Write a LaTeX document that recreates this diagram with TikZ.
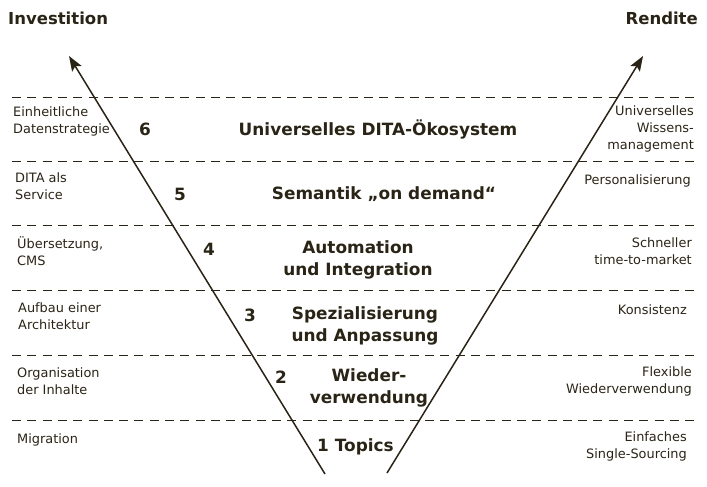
\documentclass[tikz,border=0pt]{standalone}
\usepackage{fontspec}
\setmainfont{DejaVu Sans}
\usetikzlibrary{arrows.meta}
\definecolor{ink}{RGB}{42,36,22}
\begin{document}
\begin{tikzpicture}[x=1pt,y=-1pt,
  every node/.style={text=ink,inner sep=0pt},
  small/.style={font=\fontsize{12.9}{17}\selectfont},
  leftlab/.style={small,anchor=west,align=left},
  rightlab/.style={small,anchor=east,align=right},
  title/.style={font=\fontsize{16.9}{22}\selectfont\bfseries,align=center},
  num/.style={font=\fontsize{16.9}{22}\selectfont\bfseries},
  head/.style={font=\fontsize{16.5}{20}\selectfont\bfseries},
  sep/.style={draw=ink,line width=1pt,dash pattern=on 9pt off 6.3pt},
  axis/.style={draw=ink,line width=1.5pt,-{Stealth[length=15pt,width=11pt,inset=3pt]}}]
\useasboundingbox (0,0) rectangle (707,487);
% separators
\foreach \y/\n in {97/a,161/b,225/c,290/d,355/e,420/f}{
  \coordinate (s\n l) at (12,\y);
  \coordinate (s\n r) at (695,\y);
  \draw[sep] (s\n l) -- (s\n r);
}
% headings
\node[head,anchor=west] (inv) at (8,18) {Investition};
\node[head,anchor=east] (ren) at (698,18) {Rendite};
% arrows
\coordinate (lt) at (325,474);
\coordinate (lh) at (69,56);
\coordinate (rt) at (387,473);
\coordinate (rh) at (643,56);
\draw[axis] (lt) -- (lh);
\draw[axis] (rt) -- (rh);
% left labels
\node[leftlab] (l6) at (13,121) {Einheitliche\\Datenstrategie};
\node[leftlab] (l5) at (15,186) {DITA als\\Service};
\node[leftlab] (l4) at (17,251) {Übersetzung,\\CMS};
\node[leftlab] (l3) at (18,316) {Aufbau einer\\Architektur};
\node[leftlab] (l2) at (17,381) {Organisation\\der Inhalte};
\node[leftlab] (l1) at (17,440) {Migration};
% numbers
\node[num] (n6) at (145,129) {6};
\node[num] (n5) at (180,194) {5};
\node[num] (n4) at (209,249) {4};
\node[num] (n3) at (250,315) {3};
\node[num] (n2) at (281,377) {2};
% titles
\node[title] (t6) at (378,129) {Universelles DITA-Ökosystem};
\node[title] (t5) at (384,194) {Semantik „on demand“};
\node[title] (t4) at (358,260) {Automation\\und Integration};
\node[title] (t3) at (365,326) {Spezialisierung\\und Anpassung};
\node[title] (t2) at (369,388) {Wieder-\\verwendung};
\node[title,anchor=west] (t1) at (317,447) {1 Topics};
% right labels
\node[rightlab] (r6) at (694,129) {Universelles\\Wissens-\\management};
\node[rightlab] (r5) at (691,181) {Personalisierung};
\node[rightlab] (r4) at (692,251) {Schneller\\time-to-market};
\node[rightlab] (r3) at (687,310) {Konsistenz};
\node[rightlab] (r2) at (692,381) {Flexible\\Wiederverwendung};
\node[rightlab] (r1) at (687,446) {Einfaches\\Single-Sourcing};
\end{tikzpicture}
\end{document}
